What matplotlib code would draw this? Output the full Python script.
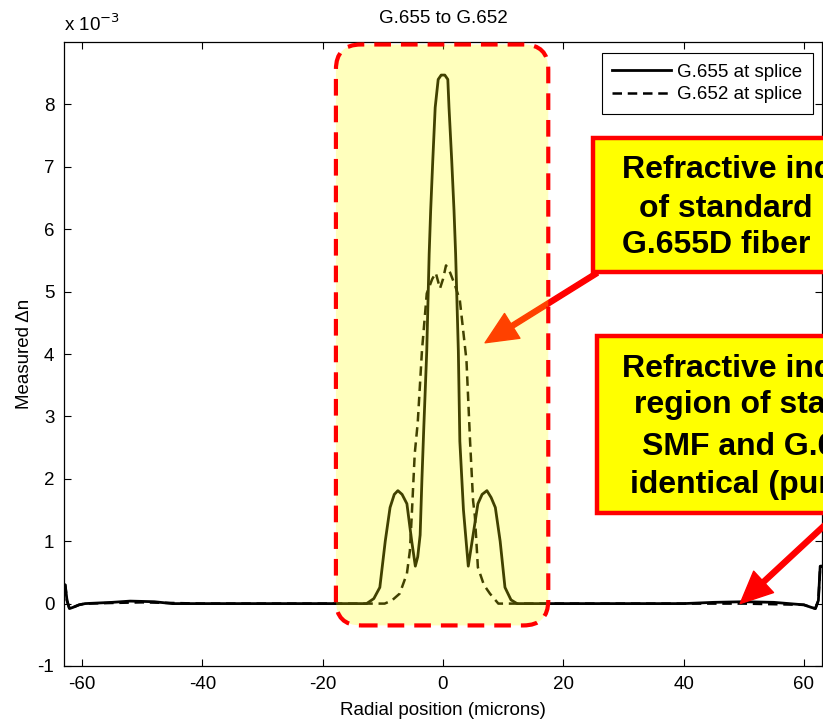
import matplotlib
matplotlib.use('Agg')
import matplotlib.pyplot as plt
from matplotlib.patches import FancyBboxPatch, Rectangle, FancyArrowPatch, ArrowStyle

plt.rcParams['font.family'] = ['Liberation Sans', 'DejaVu Sans']
plt.rcParams['axes.unicode_minus'] = False

# ── Data (delta n in units of 1e-3) ───────────────────────────────────────────
G655_X = [-63, -62.8, -62.5, -62.1, -61.5, -60.5, -59.5, -55, -52, -48, -45, -40,
          -30, -20, -15, -12.7, -11.5, -10.5, -9.6, -8.8, -8.1, -7.5, -6.8, -6.0,
          -5.2, -4.6, -4.2, -3.8, -3.5, -3.2, -2.7, -2.3, -2.05, -1.7, -1.3, -0.8,
          -0.3, 0.3, 0.8, 1.0, 1.45, 1.83, 2.1, 2.55, 2.8, 3.4, 4.2, 5.0, 5.8,
          6.5, 7.3, 8.0, 8.7, 9.5, 10.3, 11.3, 12.3, 15, 20, 30, 40, 45, 50, 55,
          60, 61.2, 61.9, 62.4, 62.7, 63]
G655_Y = [0.29, 0.30, 0.05, -0.08, -0.06, -0.02, 0.0, 0.02, 0.04, 0.03, 0.0, 0.0,
          0.0, 0.0, 0.0, 0.0, 0.08, 0.26, 1.0, 1.54, 1.75, 1.81, 1.75, 1.6,
          1.0, 0.6, 0.75, 1.1, 2.0, 2.8, 4.05, 5.6, 6.3, 7.1, 7.95, 8.4,
          8.47, 8.47, 8.4, 7.95, 7.1, 6.3, 5.6, 4.05, 2.6, 1.5, 0.6, 1.1, 1.6,
          1.75, 1.81, 1.7, 1.54, 1.0, 0.26, 0.06, 0.0, 0.0, 0.0, 0.0, 0.0, 0.02, 0.03, 0.02,
          -0.02, -0.06, -0.08, 0.05, 0.6, 0.6]

G652_X = [-63, -62.8, -62.5, -62.1, -61.5, -60.5, -59.5, -55, -50, -40, -30, -20,
          -12, -9.7, -8.5, -7.2, -6.0, -5.5, -5.2, -4.7, -4.2, -3.5, -2.7, -1.8,
          -1.2, -0.5, 0.0, 0.5, 1.2, 2.0, 2.8, 3.9, 4.5, 5.0, 5.3, 5.8, 6.8, 7.8,
          8.5, 9.2, 12, 20, 30, 40, 50, 60, 61.2, 61.9, 62.4, 62.7, 63]
G652_Y = [0.29, 0.30, 0.05, -0.08, -0.06, -0.02, 0.0, 0.01, 0.02, 0.0, 0.0, 0.0,
          0.0, 0.0, 0.05, 0.16, 0.48, 0.85, 1.4, 2.4, 2.9, 4.05, 4.97, 5.2,
          5.3, 5.05, 5.2, 5.42, 5.3, 5.1, 4.86, 3.9, 2.6, 1.65, 1.4, 0.58, 0.3, 0.16,
          0.08, 0.0, 0.0, 0.0, 0.0, 0.0, 0.0, -0.02, -0.06, -0.08, 0.05, 0.6, 0.6]

X_TICKS = [-60, -40, -20, 0, 20, 40, 60]
Y_TICKS = [-1, 0, 1, 2, 3, 4, 5, 6, 7, 8]

# highlighted core region (data units)
CORE_X = (-17.8, 17.5)
CORE_Y = (-0.35, 8.96)

FS = 13.5

# ── Figure ────────────────────────────────────────────────────────────────────
W, H = 823, 721
fig = plt.figure(figsize=(W / 100, H / 100), dpi=100, facecolor='white')
ax = fig.add_axes([64 / W, 55 / H, 758 / W, 624 / H])

ax.plot(G655_X, G655_Y, color='black', linewidth=2.0, label='G.655 at splice', zorder=2)
ax.plot(G652_X, G652_Y, color='black', linewidth=1.8, linestyle=(0, (3.8, 2.3)),
        label='G.652 at splice', zorder=2)

ax.set_xlim(-63, 63)
ax.set_ylim(-1, 9)
ax.set_xticks(X_TICKS)
ax.set_yticks(Y_TICKS)
ax.tick_params(direction='in', length=5, width=0.8, top=True, right=True,
               labelsize=FS, pad=7)
for s in ax.spines.values():
    s.set_linewidth(0.9)

ax.set_title('G.655 to G.652', fontsize=FS, pad=14)
ax.set_xlabel('Radial position (microns)', fontsize=FS, labelpad=7)
ax.set_ylabel('Measured \u0394n', fontsize=FS, labelpad=3)
ax.text(0.0, 1.012, 'x 10$^{-3}$', transform=ax.transAxes, fontsize=FS,
        ha='left', va='bottom')

leg = ax.legend(loc='upper right', bbox_to_anchor=(0.988, 0.982), borderaxespad=0,
                fontsize=FS, handlelength=3.1, handletextpad=0.37, fancybox=False,
                framealpha=1, edgecolor='black', borderpad=0.55, labelspacing=0.3)
leg.get_frame().set_linewidth(0.8)
leg.set_zorder(6)

px = lambda x, y: (x / W, 1 - y / H)
head = dict(head_length=23, head_width=21, tail_width=3.6)

# ── Arrow into the core (drawn under the translucent highlight) ──────────────
arrow1 = FancyArrowPatch(posA=(0, 0), posB=(1, 1), transform=None, shrinkA=0, shrinkB=0,
                         arrowstyle=ArrowStyle('simple', **head),
                         color='#FF0000', zorder=3)
arrow1.set_positions(fig.transFigure.transform(px(597, 273)),
                     ax.transData.transform((7.0, 4.18)))
ax.add_patch(arrow1)

# ── Translucent highlight over the core ───────────────────────────────────────
xpp = 126 / 758.0   # data-x per pixel
ypp = 10 / 624.0    # data-y per pixel
core = FancyBboxPatch((CORE_X[0], CORE_Y[0]), CORE_X[1] - CORE_X[0], CORE_Y[1] - CORE_Y[0],
                      boxstyle='round,pad=0,rounding_size=%f' % (25 * xpp),
                      mutation_aspect=ypp / xpp,
                      facecolor=(1, 1, 0, 0.26), edgecolor='#FF0000',
                      linewidth=3, linestyle=(0, (4, 2.4)), zorder=4, clip_on=False)
ax.add_patch(core)

# ── Callout boxes (extend past the right edge) ───────────────────────────────
def callout(x0, y0, y1, lines):
    r = Rectangle(px(x0, y1), (900 - x0) / W, (y1 - y0) / H, transform=fig.transFigure,
                  facecolor='#FFFF00', edgecolor='#FF0000', linewidth=3.2,
                  zorder=7, clip_on=False)
    ax.add_artist(r)
    for tx, ty, s in lines:
        ax.text(*px(tx, ty), s, transform=fig.transFigure, fontsize=23,
                fontweight='bold', ha='left', va='baseline', zorder=8, clip_on=False)

callout(593, 138, 272, [(622, 178, 'Refractive index'),
                        (639, 217, 'of standard'),
                        (622, 253, 'G.655D fiber')])
callout(597, 336, 513, [(622, 377, 'Refractive index'),
                        (634, 413, 'region of standard'),
                        (642, 455, 'SMF and G.655D'),
                        (630, 493, 'identical (pure silica)')])

arrow2 = FancyArrowPatch(posA=(0, 0), posB=(1, 1), transform=None, shrinkA=0, shrinkB=0,
                         arrowstyle=ArrowStyle('simple', **head),
                         color='#FF0000', zorder=9, clip_on=False)
arrow2.set_positions(fig.transFigure.transform(px(840, 511)),
                     ax.transData.transform((49.4, 0.0)))
ax.add_patch(arrow2)

fig.savefig('out.png', dpi=100, facecolor='white')
